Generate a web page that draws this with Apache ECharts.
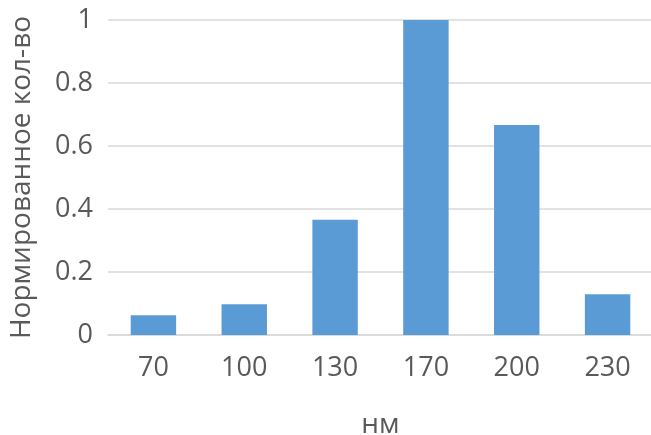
<!DOCTYPE html>
<html><head><meta charset="utf-8">
<script src="https://cdn.jsdelivr.net/npm/echarts@6/dist/echarts.min.js"></script>
<style>html,body{margin:0;padding:0;background:#fff}#c{width:651px;height:435px}</style>
</head><body><div id="c"></div>
<script>
const categories = ['70','100','130','170','200','230'];
const values = [0.063, 0.098, 0.366, 1, 0.667, 0.129];
const yTicks = [0, 0.2, 0.4, 0.6, 0.8, 1];
const xTitle = 'нм';
const yTitle = 'Нормированное кол-во';

const chart = echarts.init(document.getElementById('c'), null, {renderer:'canvas'});
const font = 'Open Sans';
const txt = '#595959';
chart.setOption({
  animation:false,
  grid:{left:108, right:-2, top:20, bottom:100, outerBoundsMode:'none', containLabel:false},
  xAxis:{type:'category', data:categories,
    axisLine:{show:true, lineStyle:{color:'#d9d9d9', width:1.5}},
    axisTick:{show:false},
    axisLabel:{color:txt, fontFamily:font, fontSize:27, margin:20},
    name:xTitle, nameLocation:'middle', nameGap:76,
    nameTextStyle:{color:txt, fontFamily:font, fontSize:28}},
  yAxis:{type:'value', min:0, max:1, interval:0.2,
    axisLine:{show:false}, axisTick:{show:false},
    splitLine:{lineStyle:{color:'#d9d9d9', width:1.5}},
    axisLabel:{color:txt, fontFamily:font, fontSize:27, margin:15,
      formatter:v=>{const t=yTicks.find(x=>Math.abs(x-v)<1e-9);return t===undefined?'':String(t);}},
    name:yTitle, nameLocation:'middle', nameGap:72,
    nameTextStyle:{color:txt, fontFamily:font, fontSize:28}},
  series:[{type:'bar', data:values, barCategoryGap:'50%',
    itemStyle:{color:'#5b9bd5'}}]
});
</script></body></html>
